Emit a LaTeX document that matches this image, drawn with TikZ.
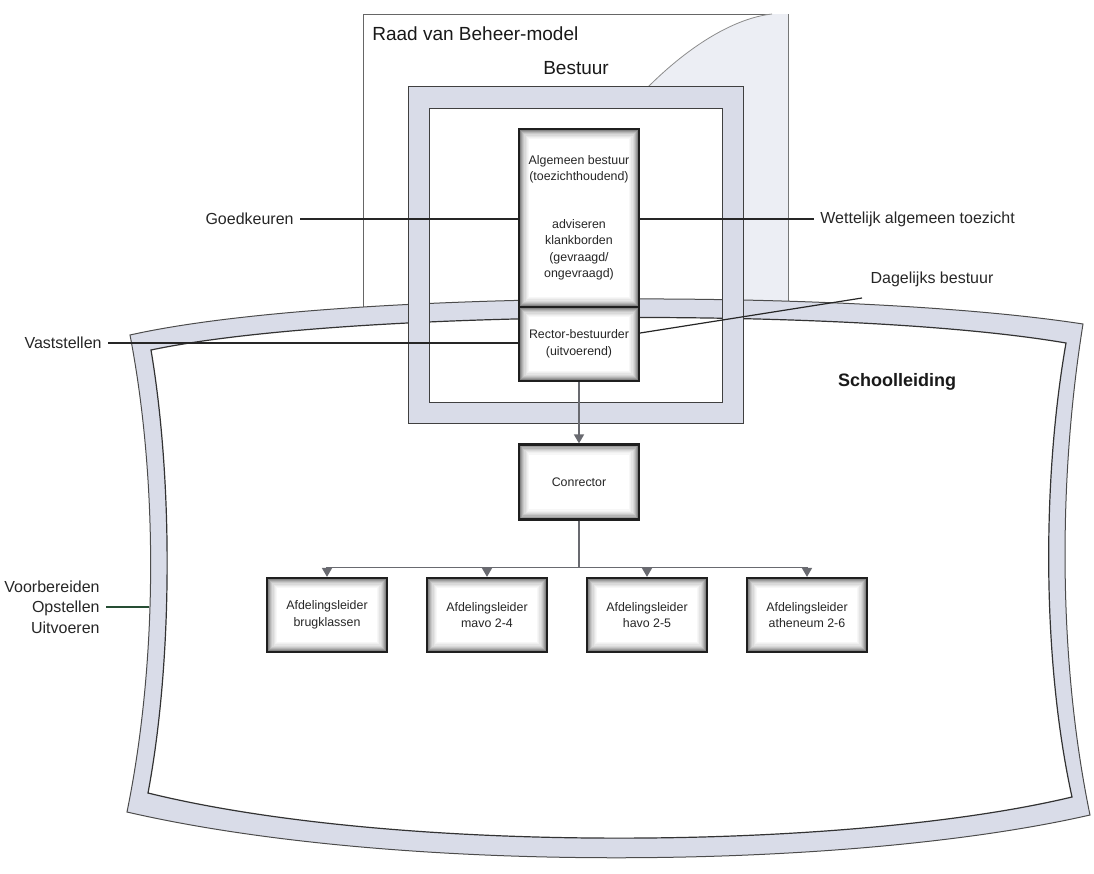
\documentclass[tikz,border=0pt]{standalone}
\usepackage{fontspec}
\setmainfont{Liberation Sans}
\usetikzlibrary{arrows.meta}
\definecolor{bandgray}{RGB}{217,220,232}
\definecolor{curlgray}{RGB}{236,238,244}
\definecolor{arrowgray}{RGB}{105,106,112}
\definecolor{labelgreen}{RGB}{38,78,52}
\begin{document}
\begin{tikzpicture}
[x=0.5pt,y=-0.5pt,
  boxDecorate/.style={draw=black!88,line width=1.1pt,fill=white,align=center,
    minimum width=60pt,minimum height=37pt,inner sep=2pt,text=black!85,
    font=\fontsize{6.2}{8.25}\selectfont,
    path picture={
      \foreach \d/\c in {0.6pt/48,1.2pt/38,1.8pt/29,2.4pt/21,3pt/15,3.6pt/10,4.2pt/6,4.8pt/3}
        \draw[black!\c,line width=0.7pt]
          ([shift={(\d,-\d)}]path picture bounding box.north west) rectangle
          ([shift={(-\d,\d)}]path picture bounding box.south east);}},
  labelDecorate/.style={font=\fontsize{8}{10}\selectfont,text=black!85,inner sep=3pt},
  titleDecorate/.style={font=\fontsize{9.5}{11}\selectfont,text=black!90,inner sep=0pt},
  arrowDecorate/.style={-{Triangle[length=4.5pt,width=5pt]},draw=arrowgray,line width=0.8pt},
  lineDecorate/.style={draw=black!85,line width=0.6pt}]
\useasboundingbox (0,0) rectangle (1094,874);
%% Raad van Beheer-model sheet
\draw[black!60,fill=white,line width=0.5pt] (363,14) rectangle (788,312);
\fill[curlgray] (648,87) .. controls (690,45) and (735,18) .. (772,14)
  -- (788,14) -- (788,312) -- (743,312) -- (743,86) -- cycle;
\draw[black!45,line width=0.4pt] (648,87) .. controls (690,45) and (735,18) .. (772,14);
\node[titleDecorate,anchor=west] (raad) at (372,34) {Raad van Beheer-model};
%% Schoolleiding and Bestuur, white insides first
\fill[white]
  (151,350) .. controls (340,310) and (850,306) .. (1066,343)
  .. controls (1042,480) and (1042,660) .. (1072,797)
  .. controls (850,850) and (400,855) .. (148,793)
  .. controls (173,660) and (173,480) .. cycle;
\fill[white] (429,108) rectangle (722,402);
%% Schoolleiding band
\fill[bandgray,even odd rule]
  (130,335) .. controls (330,290) and (850,288) .. (1083,324)
  .. controls (1058,480) and (1058,660) .. (1090,815)
  .. controls (850,870) and (400,875) .. (127,812)
  .. controls (158,660) and (158,480) .. cycle
  (151,350) .. controls (340,310) and (850,306) .. (1066,343)
  .. controls (1042,480) and (1042,660) .. (1072,797)
  .. controls (850,850) and (400,855) .. (148,793)
  .. controls (173,660) and (173,480) .. cycle;
\draw[black!70,line width=0.5pt]
  (130,335) .. controls (330,290) and (850,288) .. (1083,324)
  .. controls (1058,480) and (1058,660) .. (1090,815)
  .. controls (850,870) and (400,875) .. (127,812)
  .. controls (158,660) and (158,480) .. cycle;
\draw[black!80,line width=0.6pt]
  (151,350) .. controls (340,310) and (850,306) .. (1066,343)
  .. controls (1042,480) and (1042,660) .. (1072,797)
  .. controls (850,850) and (400,855) .. (148,793)
  .. controls (173,660) and (173,480) .. cycle;
\node[titleDecorate,font=\fontsize{9}{11}\selectfont\bfseries] (school) at (897,382) {Schoolleiding};
%% Bestuur band
\fill[bandgray,even odd rule] (408,86) rectangle (743,423) (429,108) rectangle (722,402);
\draw[black!75,line width=0.5pt] (408,86) rectangle (743,423);
\draw[black!75,line width=0.5pt] (429,108) rectangle (722,402);
\node[titleDecorate] (bestuur) at (576,68) {Bestuur};
%% boxes
\node[boxDecorate,minimum height=89pt] (algemeen) at (579,218)
  {Algemeen bestuur\\(toezichthoudend)\\[15.5pt]adviseren\\klankborden\\(gevraagd/\\ongevraagd)};
\node[boxDecorate] (rector) at (579,344) {Rector-bestuurder\\(uitvoerend)};
\node[boxDecorate,minimum height=37.5pt] (conrector) at (579,482) {Conrector};
\foreach \nodename/\x/\afd in {
  afdbrug/327/brugklassen, afdmavo/487/mavo 2-4, afdhavo/647/havo 2-5, afdath/807/atheneum 2-6}
{
  \node[boxDecorate] (\nodename) at (\x,615) {Afdelingsleider\\\afd};
}
%% side labels
\node[labelDecorate,anchor=east] (goed) at (300,219) {Goedkeuren};
\node[labelDecorate,anchor=west] (wett) at (814,219) {Wettelijk algemeen toezicht};
\node[labelDecorate] (dagelijks) at (932,279) {Dagelijks bestuur};
\node[labelDecorate,anchor=east] (vast) at (108,343) {Vaststellen};
\node[labelDecorate,anchor=east,align=right,font=\fontsize{8}{10.2}\selectfont] (opst) at (106,607)
  {Voorbereiden\\Opstellen\\Uitvoeren};
\coordinate (dagend) at (862,298);
\coordinate (opstend) at (149,607);
%% connectors
\draw[lineDecorate] (goed.east) -- (goed.east -| algemeen.west);
\draw[lineDecorate] (wett.west) -- (wett.west -| algemeen.east);
\draw[lineDecorate] (vast.east) -- (vast.east -| rector.west);
\draw[lineDecorate] ([yshift=5.5pt]rector.east) -- (dagend);
\draw[draw=labelgreen,line width=0.6pt] (opst.east) -- (opstend);
\draw[arrowDecorate] (rector.south) -- (conrector.north);
\foreach \nodename in {afdbrug,afdmavo,afdhavo,afdath}
{
  \draw[arrowDecorate] (conrector.south) -- ++(0,47) -| (\nodename.north);
}
\end{tikzpicture}
\end{document}
